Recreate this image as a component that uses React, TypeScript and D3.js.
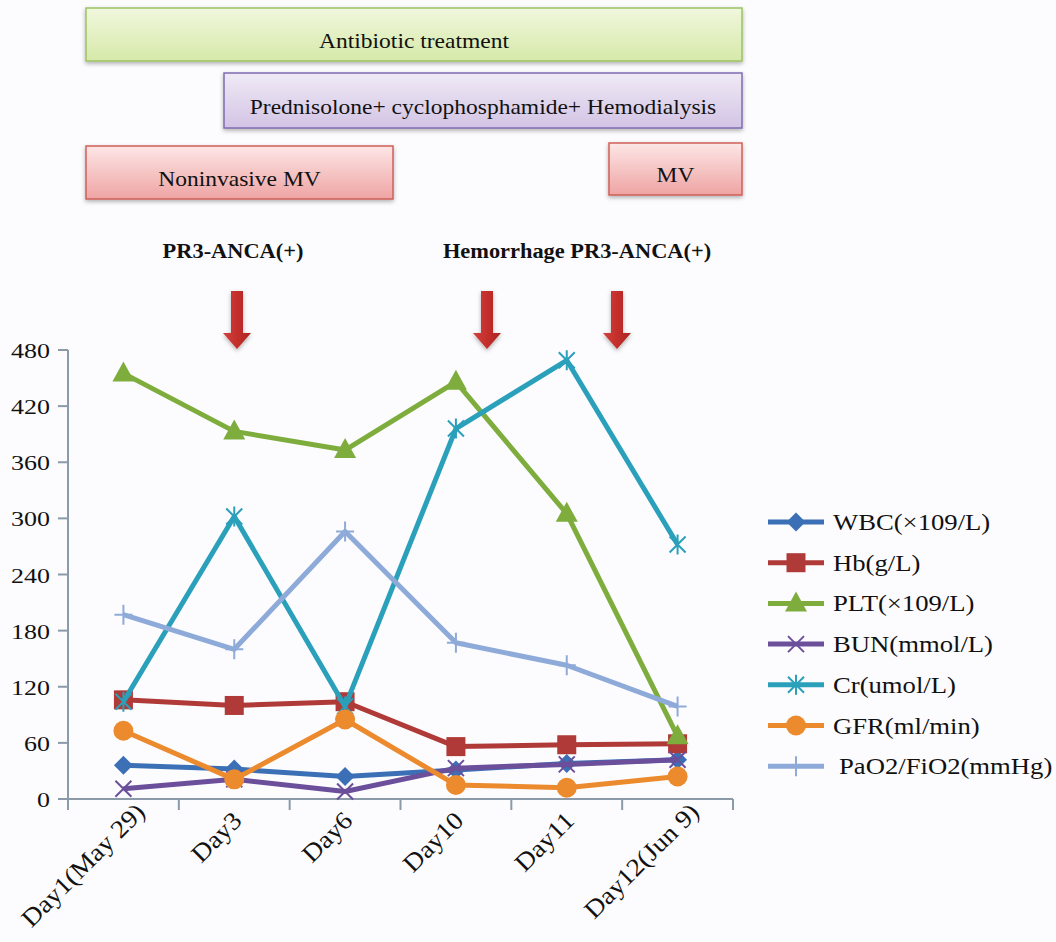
import React from "react";
import * as d3 from "d3";

const categories = ["Day1(May 29)", "Day3", "Day6", "Day10", "Day11", "Day12(Jun 9)"];
const yTicks = [0, 60, 120, 180, 240, 300, 360, 420, 480];

const seriesNames = ["WBC(\u00d7109/L)", "Hb(g/L)", "PLT(\u00d7109/L)", "BUN(mmol/L)", "Cr(umol/L)", "GFR(ml/min)", "PaO2/FiO2(mmHg)"];
const wbc = [36, 32, 24, 31, 38, 42];
const hb = [106, 100, 104, 56, 58, 59];
const plt = [455, 393, 373, 446, 305, 67];
const bun = [11, 21, 8, 33, 37, 42];
const cr = [104, 302, 99, 396, 469, 272];
const gfr = [73, 21, 85, 15, 12, 24];
const pao2 = [197, 160, 286, 167, 143, 99];
const seriesValues = [wbc, hb, plt, bun, cr, gfr, pao2];
const seriesColors = ["#3b6fb6", "#b03a38", "#7ead3e", "#6b4f9b", "#2aa0ba", "#ec8a2e", "#8eaad9"];
const seriesMarkers = ["diamond", "square", "triangle", "x", "asterisk", "circle", "plus"];

const boxes = [
  { label: "Antibiotic treatment", x0: 86, x1: 742, y0: 8, y1: 61, kind: "green" },
  { label: "Prednisolone+ cyclophosphamide+ Hemodialysis", x0: 224, x1: 742, y0: 73, y1: 128, kind: "purple" },
  { label: "Noninvasive MV", x0: 86, x1: 393, y0: 146, y1: 199, kind: "red" },
  { label: "MV", x0: 609, x1: 742, y0: 143, y1: 195, kind: "red" },
];
const eventLabels = [
  { text: "PR3-ANCA(+)", x: 233 },
  { text: "Hemorrhage PR3-ANCA(+)", x: 577 },
];
const arrowXs = [237, 487, 617];

const SX = 1.18;
const FONT = "'Liberation Serif', 'Times New Roman', serif";

function Marker({ type, x, y, color }: { type: string; x: number; y: number; color: string }) {
  switch (type) {
    case "diamond":
      return <path d={`M${x},${y - 9.5}L${x + 9.5},${y}L${x},${y + 9.5}L${x - 9.5},${y}Z`} fill={color} />;
    case "square":
      return <rect x={x - 9.5} y={y - 9.5} width={19} height={19} fill={color} />;
    case "triangle":
      return <path d={`M${x},${y - 12}L${x + 11},${y + 8}L${x - 11},${y + 8}Z`} fill={color} />;
    case "x":
      return (
        <path d={`M${x - 8},${y - 8}L${x + 8},${y + 8}M${x - 8},${y + 8}L${x + 8},${y - 8}`} stroke={color} strokeWidth={2} />
      );
    case "asterisk":
      return (
        <path
          d={`M${x - 8},${y - 8}L${x + 8},${y + 8}M${x - 8},${y + 8}L${x + 8},${y - 8}M${x},${y - 10}L${x},${y + 10}`}
          stroke={color}
          strokeWidth={2}
        />
      );
    case "circle":
      return <circle cx={x} cy={y} r={10} fill={color} />;
    case "plus":
      return <path d={`M${x - 9},${y}L${x + 9},${y}M${x},${y - 10}L${x},${y + 10}`} stroke={color} strokeWidth={2} />;
    default:
      return null;
  }
}

function STxt({ x, y, size, anchor, weight, sx, children }: any) {
  return (
    <text
      transform={`translate(${x},${y}) scale(${sx || SX},1)`}
      fontSize={size}
      textAnchor={anchor || "start"}
      fontWeight={weight || "normal"}
      fontFamily={FONT}
      fill="#111"
    >
      {children}
    </text>
  );
}

export default function App() {
  const W = 1056;
  const H = 942;
  const x = d3.scaleBand<string>().domain(categories).range([68, 733]).padding(0);
  const y = d3.scaleLinear().domain([0, 480]).range([799, 350]);
  const cx = (c: string) => (x(c) as number) + x.bandwidth() / 2;
  const line = d3
    .line<number>()
    .x((_, i) => cx(categories[i]))
    .y((d) => y(d));

  const fills: Record<string, string> = { green: "url(#gGreen)", purple: "url(#gPurple)", red: "url(#gRed)" };
  const strokes: Record<string, string> = { green: "#9cc262", purple: "#7f6bb0", red: "#cf5f5a" };

  const boundaries = [...categories.map((c) => x(c) as number), 733];

  return (
    <svg width={W} height={H} style={{ position: "absolute", left: 0, top: 0, background: "#fcfcfe" }}>
      <defs>
        <linearGradient id="gGreen" x1="0" y1="0" x2="0" y2="1">
          <stop offset="0" stopColor="#f1f7dd" />
          <stop offset="1" stopColor="#d6e9a9" />
        </linearGradient>
        <linearGradient id="gPurple" x1="0" y1="0" x2="0" y2="1">
          <stop offset="0" stopColor="#f0eaf6" />
          <stop offset="1" stopColor="#d2c4e4" />
        </linearGradient>
        <linearGradient id="gRed" x1="0" y1="0" x2="0" y2="1">
          <stop offset="0" stopColor="#fde6e6" />
          <stop offset="1" stopColor="#eea4a3" />
        </linearGradient>
        <linearGradient id="gArrow" x1="0" y1="0" x2="1" y2="0">
          <stop offset="0" stopColor="#d0403c" />
          <stop offset="0.5" stopColor="#c42f2c" />
          <stop offset="1" stopColor="#a92522" />
        </linearGradient>
        <filter id="shadow" x="-10%" y="-20%" width="120%" height="160%">
          <feDropShadow dx="0" dy="2" stdDeviation="2" floodColor="#000" floodOpacity="0.3" />
        </filter>
      </defs>

      {boxes.map((b) => (
        <g key={b.label}>
          <rect
            x={b.x0}
            y={b.y0}
            width={b.x1 - b.x0}
            height={b.y1 - b.y0}
            fill={fills[b.kind]}
            stroke={strokes[b.kind]}
            strokeWidth={1.5}
            filter="url(#shadow)"
          />
          <STxt x={(b.x0 + b.x1) / 2} y={(b.y0 + b.y1) / 2 + 13} size={21} sx={1.12} anchor="middle">
            {b.label}
          </STxt>
        </g>
      ))}

      {eventLabels.map((l) => (
        <STxt key={l.text} x={l.x} y={258} size={20} sx={1.12} anchor="middle" weight="bold">
          {l.text}
        </STxt>
      ))}

      {arrowXs.map((ax) => (
        <path
          key={ax}
          d={`M${ax - 6},291L${ax + 6},291L${ax + 6},333L${ax + 14},333L${ax},349L${ax - 14},333L${ax - 6},333Z`}
          fill="url(#gArrow)"
          filter="url(#shadow)"
        />
      ))}

      {/* axes */}
      <g stroke="#8a9aa8" strokeWidth={2} fill="none">
        <line x1={68} y1={350} x2={68} y2={809} />
        <line x1={68} y1={799} x2={733} y2={799} />
        {yTicks.map((t) => (
          <line key={t} x1={58} x2={68} y1={y(t)} y2={y(t)} />
        ))}
        {boundaries.map((b, i) => (
          <line key={i} x1={b} x2={b} y1={799} y2={810} />
        ))}
      </g>
      {yTicks.map((t) => (
        <STxt key={t} x={50} y={y(t) + 8} size={22} anchor="end">
          {t}
        </STxt>
      ))}
      {categories.map((c) => {
        const shift = c.includes("(") ? 14 : 0;
        return (
          <text
            key={c}
            transform={`translate(${cx(c) + 9 + shift},${822 - shift * 0.6}) rotate(-45) scale(1.1,1)`}
            fontSize={25}
            textAnchor="end"
            fontFamily={FONT}
            fill="#111"
          >
            {c}
          </text>
        );
      })}

      {/* series */}
      {seriesValues.map((vals, si) => (
        <g key={seriesNames[si]}>
          <path d={line(vals) || ""} fill="none" stroke={seriesColors[si]} strokeWidth={5} strokeLinejoin="round" />
          {vals.map((v, i) => (
            <Marker key={i} type={seriesMarkers[si]} x={cx(categories[i])} y={y(v)} color={seriesColors[si]} />
          ))}
        </g>
      ))}

      {/* legend */}
      {seriesNames.map((n, i) => {
        const ly = 522 + i * 40.7;
        return (
          <g key={n}>
            <line x1={768} x2={824} y1={ly} y2={ly} stroke={seriesColors[i]} strokeWidth={5} />
            <Marker type={seriesMarkers[i]} x={796} y={ly} color={seriesColors[i]} />
            <STxt x={i === 6 ? 839 : 833} y={ly + 8} size={23} sx={1.16}>
              {n}
            </STxt>
          </g>
        );
      })}
    </svg>
  );
}
